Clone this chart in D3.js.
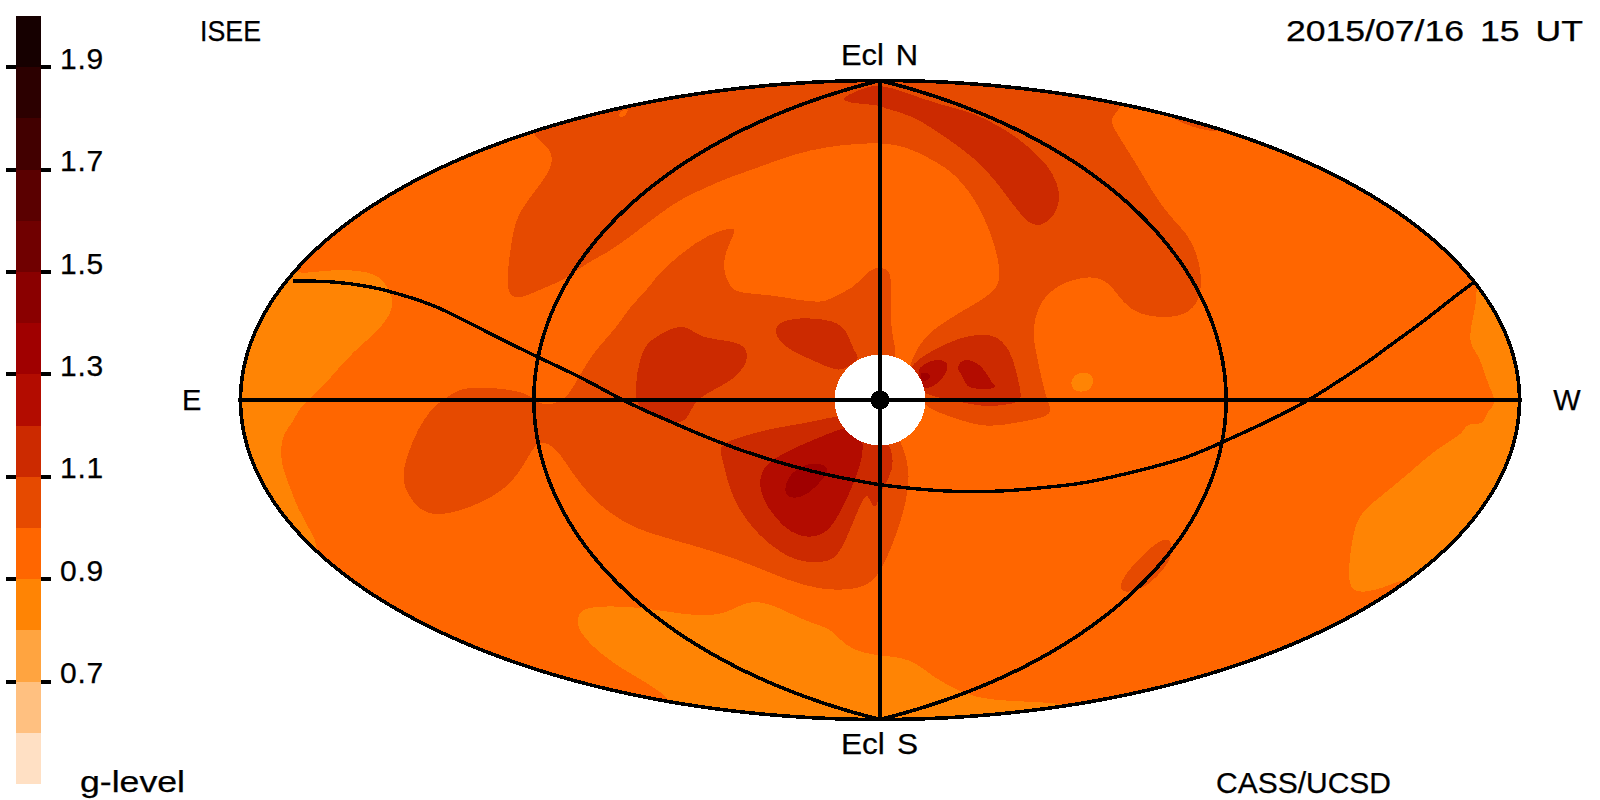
<!DOCTYPE html>
<html>
<head>
<meta charset="utf-8">
<title>ISEE g-level sky map</title>
<script src="https://cdn.jsdelivr.net/npm/d3@7/dist/d3.min.js"></script>
<style>
html,body{margin:0;padding:0;background:#fff;overflow:hidden}
svg{display:block}
text{font-family:"Liberation Sans",Arial,sans-serif;fill:#000;stroke:#000;stroke-width:.25px}
</style>
</head>
<body>
<script>
// ---- colour bar data ----
const levelEdges = [0.5,0.6,0.7,0.8,0.9,1.0,1.1,1.2,1.3,1.4,1.5,1.6,1.7,1.8,1.9,2.0];
const levelColours = ["#FFE0C4","#FFC080","#FFA440","#FF8404","#FF6600","#E64A00","#CC2A00","#B30C00","#A00000","#8A0000","#700000","#5A0000","#420000","#2C0000","#160000"];
const tickValues = [0.7,0.9,1.1,1.3,1.5,1.7,1.9];

// ---- meridians (degrees of elongation) ----
const meridianLongitudes = [-180,-90,0,90,180];

// ---- contour outlines, read in Hammer-plane units (centre = 0,0) ----
const band08West = [[-587,127],[-573,127],[-540,131],[-507,128],[-495,118],[-487,103],[-488,87],[-503,68],[-527,48],[-543,30],[-553,18],[-573,-2],[-582,-10],[-587,-23],[-597,-33],[-600,-52],[-597,-70],[-590,-87],[-583,-107],[-570,-130],[-558,-153],[-580,-175],[-680,-100],[-680,80],[-600,150]];
const band08South = [[-303,-217],[-297,-208],[-273,-206],[-247,-207],[-223,-210],[-197,-214],[-173,-216],[-153,-213],[-137,-203],[-120,-201],[-100,-208],[-73,-222],[-50,-228],[-40,-240],[-27,-250],[-7,-255],[20,-257],[37,-263],[53,-277],[77,-290],[97,-298],[127,-301],[160,-302],[210,-306],[100,-340],[-100,-340],[-200,-320],[-210,-298],[-227,-287],[-250,-273],[-267,-263],[-287,-247],[-302,-230]];
const band08East = [[595,115],[597,100],[593,83],[588,58],[597,47],[603,33],[608,15],[618,-3],[605,-13],[605,-25],[585,-23],[585,-33],[557,-48],[533,-70],[500,-97],[480,-113],[473,-133],[468,-170],[470,-190],[483,-193],[507,-187],[530,-175],[600,-180],[680,-60],[680,60],[620,130]];
const band08Spot = [[190,17],[195,26],[203,28],[212,26],[214,17],[209,9],[200,8],[193,10]];

const band10North = [[-348,265],[-327,250],[-328,233],[-340,215],[-360,190],[-367,170],[-372,133],[-373,110],[-367,102],[-355,103],[-337,112],[-315,120],[-297,135],[-273,147],[-250,163],[-220,187],[-197,202],[-173,213],[-150,223],[-123,232],[-97,242],[-70,250],[-40,255],[0,258],[27,253],[47,243],[67,232],[83,217],[97,197],[110,170],[118,143],[121,120],[113,107],[93,95],[67,80],[43,63],[30,37],[25,15],[47,-7],[57,-12],[80,-20],[107,-28],[140,-22],[167,-17],[172,-10],[167,0],[163,15],[157,43],[152,67],[157,93],[173,113],[200,123],[220,123],[233,113],[243,97],[260,85],[283,82],[307,85],[320,100],[322,123],[317,147],[307,167],[290,183],[273,207],[260,230],[243,257],[233,273],[230,283],[243,292],[250,330],[0,340],[-250,330],[-360,290]];
const band10Central = [[-433,2],[-423,10],[-407,13],[-383,12],[-357,8],[-347,2],[-340,-4],[-330,-5],[-322,-2],[-313,2],[-297,30],[-287,47],[-263,73],[-250,93],[-240,103],[-230,114],[-220,128],[-197,148],[-173,165],[-145,174],[-145,167],[-155,148],[-157,130],[-150,113],[-143,107],[-107,105],[-83,100],[-57,97],[-47,103],[-27,112],[-17,123],[-7,133],[7,132],[12,123],[10,90],[12,63],[18,45],[5,0],[15,-30],[23,-47],[30,-70],[27,-100],[17,-133],[5,-163],[-7,-183],[-27,-190],[-60,-190],[-93,-180],[-123,-167],[-163,-152],[-207,-140],[-240,-130],[-260,-120],[-287,-100],[-310,-70],[-322,-50],[-337,-40],[-347,-47],[-357,-67],[-373,-88],[-397,-102],[-423,-112],[-447,-116],[-463,-108],[-477,-87],[-477,-67],[-467,-40],[-457,-20],[-443,-3]];
const band10Streak = [[292,-138],[280,-140],[267,-151],[253,-165],[240,-182],[241,-192],[252,-192],[270,-185],[285,-167],[292,-157]];
const band10Edge = [[285,286],[305,275],[335,267],[345,272],[320,290]];
const band09Spot = [[-262,286],[-255,292],[-251,290],[-255,284],[-260,282]];

const band11North = [[-39,302],[-23,309],[-3,317],[27,307],[60,295],[93,288],[120,273],[137,263],[160,243],[173,227],[181,207],[177,187],[163,174],[150,175],[137,190],[113,223],[93,243],[67,262],[40,280],[20,288],[3,292],[0,295],[-33,297]];
const band11Left = [[-245,2],[-243,30],[-237,50],[-230,60],[-207,73],[-192,74],[-180,62],[-147,59],[-133,53],[-132,37],[-147,20],[-167,10],[-180,2],[-185,-2],[-190,-13],[-197,-24],[-215,-20],[-230,-14],[-240,-8]];
const band11Upper = [[-105,67],[-103,77],[-83,83],[-43,80],[-32,67],[-27,50],[-20,42],[-27,37],[-40,27],[-63,38],[-87,48],[-100,58]];
const band11Right = [[32,37],[53,50],[80,63],[107,67],[123,60],[133,43],[138,20],[143,0],[133,-4],[107,-7],[90,-4],[67,1],[45,5],[25,20]];
const band11Lower = [[-162,-45],[-140,-37],[-107,-28],[-67,-22],[-50,-17],[-20,-15],[0,-30],[13,-50],[13,-70],[5,-85],[-2,-97],[-3,-107],[-8,-107],[-12,-93],[-18,-100],[-27,-123],[-40,-153],[-50,-162],[-77,-163],[-100,-153],[-127,-130],[-145,-103],[-153,-80],[-158,-57]];

const band12Lower = [[-120,-77],[-115,-65],[-97,-53],[-67,-40],[-43,-30],[-25,-25],[-15,-43],[-20,-67],[-28,-87],[-37,-107],[-50,-130],[-63,-137],[-80,-137],[-97,-127],[-113,-107],[-120,-90]];
const band12RightA = [[36,33],[57,42],[69,38],[67,26],[54,13],[41,10],[41,20]];
const band12RightB = [[79,38],[88,42],[104,33],[111,17],[120,11],[86,10],[84,23],[77,30]];

const band13Lower = [[-95,-85],[-88,-71],[-67,-61],[-49,-67],[-56,-78],[-72,-95],[-87,-99],[-95,-95]];
const band13Right = [[38,30],[55,25],[42,15]];

const eclipticLine = [[-587,119],[-550,119],[-510,114],[-477,105],[-443,94],[-403,73],[-343,43],[-297,22],[-262,2],[-230,-13],[-213,-20],[-163,-42],[-117,-58],[-67,-72],[-27,-80],[0,-85],[27,-88],[60,-91],[93,-92],[127,-91],[160,-88],[200,-84],[233,-77],[273,-67],[307,-58],[343,-42],[387,-22],[430,0],[460,20],[487,37],[513,57],[543,78],[570,100],[593,117]];

// ---- painter's order: [g-level of band, outline] ----
const drawOrder = [
  [0.85,band08West],[0.85,band08South],[0.85,band08East],[0.85,band08Spot],
  [1.05,band10North],[1.05,band10Central],[1.05,band10Streak],[1.05,band10Edge],[0.95,band09Spot],
  [1.15,band11North],[1.15,band11Left],[1.15,band11Upper],[1.15,band11Right],[1.15,band11Lower],
  [1.25,band12Lower],[1.25,band12RightA],[1.25,band12RightB],
  [1.35,band13Lower],[1.35,band13Right]
];

// ---- labels ----
const labelTitle = "ISEE", labelDate = "2015/07/16 15 UT", labelCredit = "CASS/UCSD", labelUnit = "g-level";
const labelNorth = "Ecl N", labelSouth = "Ecl S", labelEast = "E", labelWest = "W";

// ---- drawing ----
const svg = d3.select("body").append("svg").attr("width",1600).attr("height",800);
const colour = d3.scaleThreshold().domain(levelEdges.slice(1,-1)).range(levelColours);
const yBar = d3.scaleLinear().domain([0.5,2.0]).range([784,16]);

const planeX = d3.scaleLinear().domain([-639.5,639.5]).range([240.5,1519.5]);
const planeY = d3.scaleLinear().domain([-319.5,319.5]).range([719.5,80.5]);
const R2 = Math.SQRT2;
const hammerX = d3.scaleLinear().domain([-2*R2,2*R2]).range(planeX.range());
const hammerY = d3.scaleLinear().domain([-R2,R2]).range(planeY.range());
function hammer(lonDeg,latDeg){
  const l=lonDeg*Math.PI/180,p=latDeg*Math.PI/180,k=Math.sqrt(1+Math.cos(p)*Math.cos(l/2));
  return [hammerX(2*R2*Math.cos(p)*Math.sin(l/2)/k),hammerY(R2*Math.sin(p)/k)];
}
const lats = d3.range(-90,90.01,1);
const meridian = lon => lats.map(lat=>hammer(lon,lat));
const rawLine = d3.line();
const outlinePts = meridian(180).concat(meridian(-180).reverse());

// clip + base
const defs = svg.append("defs");
defs.append("clipPath").attr("id","sky").append("path").attr("d",rawLine(outlinePts)+"Z");
const sky = svg.append("g").attr("clip-path","url(#sky)");
sky.append("path").attr("d",rawLine(outlinePts)+"Z").attr("fill",colour(0.95)).attr("shape-rendering","crispEdges");

const contour = d3.line().x(d=>planeX(d[0])).y(d=>planeY(d[1])).curve(d3.curveBasisClosed);
sky.selectAll("path.band").data(drawOrder).join("path").attr("class","band")
  .attr("d",d=>contour(d[1])).attr("fill",d=>colour(d[0])).attr("shape-rendering","crispEdges");

// occulted disc
const cx = hammerX(0), cy = hammerY(0);
svg.append("circle").attr("cx",cx).attr("cy",cy).attr("r",45.5).attr("fill","#fff").attr("shape-rendering","crispEdges");

// grid lines
const lines = svg.append("g").attr("fill","none").attr("stroke","#000").attr("stroke-linejoin","round").attr("shape-rendering","crispEdges");
meridianLongitudes.forEach(lon=>{
  lines.append("path").attr("d",rawLine(meridian(lon))).attr("stroke-width",lon===0?4.6:3.6);
});
lines.append("path").attr("d",rawLine([[hammerX(-2*R2)-3,cy],[hammerX(2*R2)+2,cy]])).attr("stroke-width",4);
lines.append("path").attr("stroke-width",3.4)
  .attr("d",d3.line().x(d=>planeX(d[0])).y(d=>planeY(d[1])).curve(d3.curveBasis)(eclipticLine));
svg.append("circle").attr("cx",cx).attr("cy",cy).attr("r",9.5).attr("fill","#000").attr("shape-rendering","crispEdges");

// colour bar
const bar = svg.append("g");
bar.selectAll("line").data(tickValues).join("line")
  .attr("x1",6).attr("x2",51).attr("y1",d=>yBar(d)).attr("y2",d=>yBar(d)).attr("stroke","#000").attr("stroke-width",4).attr("shape-rendering","crispEdges");
bar.selectAll("rect").data(levelColours).join("rect")
  .attr("x",16).attr("width",25)
  .attr("y",(d,i)=>yBar(levelEdges[i+1])).attr("height",(d,i)=>yBar(levelEdges[i])-yBar(levelEdges[i+1]))
  .attr("fill",d=>d).attr("shape-rendering","crispEdges");
bar.selectAll("text").data(tickValues).join("text")
  .attr("x",104).attr("y",d=>yBar(d)+1.5).attr("text-anchor","end")
  .attr("font-size",30).attr("letter-spacing","0.8px").text(d=>d.toFixed(1));

// labels
function label(t,x,y,opts={}){
  const e=svg.append("text").attr("x",x).attr("y",y).attr("font-size",opts.size||29).attr("text-anchor",opts.anchor||"start").text(t);
  if(opts.word) e.attr("word-spacing",opts.word);
  if(opts.length) e.attr("textLength",opts.length).attr("lengthAdjust","spacingAndGlyphs");
  return e;
}
label(labelTitle,200,41,{length:61});
label(labelDate,1286,41,{length:297,word:5});
label(labelCredit,1216,793,{length:175});
label(labelUnit,80,792,{length:105});
label(labelNorth,841,65,{length:77,word:3});
label(labelSouth,841,754,{length:77,word:3});
label(labelEast,182,410);
label(labelWest,1567,410,{anchor:"middle"});
</script>
</body>
</html>
